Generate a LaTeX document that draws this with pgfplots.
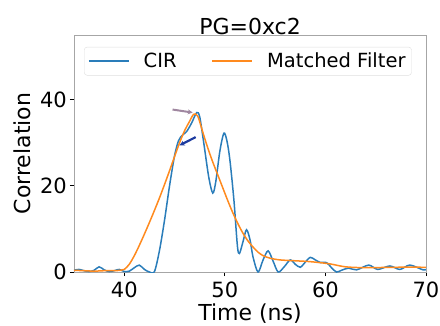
\documentclass[border=0pt]{standalone}
\usepackage{pgfplots}
\pgfplotsset{compat=1.18}
\usepackage{fontspec}
\setmainfont{DejaVu Sans}
\usetikzlibrary{arrows.meta}
\definecolor{mplblue}{HTML}{2A7DBA}
\definecolor{mplorange}{HTML}{FF8A1E}
\definecolor{legblue}{HTML}{5A9BCB}
\definecolor{legorange}{HTML}{F7A868}
\begin{document}
\begin{tikzpicture}
\begin{axis}[
  scale only axis,
  width=352pt, height=237pt,
  xmin=35, xmax=70, ymin=0, ymax=55,
  xtick={40,50,60,70}, ytick={0,20,40},
  /pgf/number format/assume math mode=true,
  ticklabel style={font=\fontsize{21}{23}\selectfont, inner sep=1pt},
  xticklabel style={yshift=-5pt},
  yticklabel style={xshift=-2pt},
  tick align=outside, major tick length=4pt,
  xtick pos=bottom, ytick pos=left,
  axis line style={gray!70, line width=0.8pt},
  tick style={black, line width=0.8pt},
  title={PG=0xc2},
  title style={font=\fontsize{22}{24}\selectfont, yshift=-9.5pt},
  xlabel={Time (ns)},
  ylabel={Correlation},
  label style={font=\fontsize{22}{24}\selectfont, inner sep=1pt},
  xlabel style={yshift=-3.5pt},
  ylabel style={yshift=7pt},
  legend columns=2,
  legend style={at={(0.494,0.95)}, anchor=north, font=\fontsize{19.5}{21}\selectfont,
    draw=gray!25, rounded corners=3pt, fill=white, inner xsep=4pt, inner ysep=4pt,
    /tikz/column 1/.style={column sep=12pt},
    /tikz/column 2/.style={column sep=33pt},
    /tikz/column 3/.style={column sep=12pt},
    /tikz/column 4/.style={column sep=0pt}},
  legend image code/.code={\draw[#1, line width=1.5pt] (0pt,0pt) -- (40pt,0pt);},
  clip=true,
]
\addplot[draw=mplblue, line width=1.5pt, smooth, tension=0.5] coordinates {
(35,0.4) (35.5,0.6) (36,0.3) (36.5,0.1) (37,0.4) (37.5,1.2) (38,0.5) (38.5,0.1)
(39,0.3) (39.5,0.6) (40,0.1) (40.5,0.2) (41,1.0) (41.5,1.6) (42,0.6) (42.5,0)
(43,0.1) (43.5,5) (44,12) (44.5,20) (45,27) (45.4,30.5) (45.8,31.8) (46.2,32.6)
(46.7,34.6) (47.2,37) (47.5,36) (47.9,30) (48.4,22) (48.8,18.3) (49.1,21)
(49.5,28) (49.9,32.2) (50.2,30.5) (50.5,26) (50.9,16.7) (51.25,6) (51.45,4.3)
(51.8,7) (52.15,9.8) (52.5,7.5) (52.8,3.5) (53.3,0) (53.8,2.8) (54.3,4.9)
(54.8,2.5) (55.3,0) (55.9,1.2) (56.5,2.8) (57,1.8) (57.5,1.1) (58,2.3)
(58.5,3.4) (59,2.8) (59.5,2.2) (60.1,2.2) (60.6,1.0) (61.1,0) (61.6,0.4)
(62.3,0.9) (63.1,0.5) (64.3,1.6) (65.2,0.6) (66.4,1.4) (67.4,0.6) (68.4,1.6)
(69.7,0.5) (70,0.6)
};
\addlegendentry{CIR}
\addplot[draw=mplorange, line width=1.5pt, smooth, tension=0.5] coordinates {
(35,0.4) (36,0.3) (37,0.2) (38,0.3) (39,0.3) (39.6,0.4) (40,0.6) (40.5,1.8)
(41,3.8) (41.5,6.2) (42,8.8) (42.5,11.5) (43,14.3) (43.5,17.2) (44,20.3)
(44.5,23.5) (45,26.8) (45.5,30) (46,32.8) (46.5,35) (46.9,36.6) (47.3,36.2)
(47.8,32.5) (48.3,28.8) (48.8,25.5) (49.3,22.5) (49.8,19.5) (50.3,16.5)
(50.8,13.7) (51.3,11.2) (51.8,9) (52.3,7.2) (52.8,5.8) (53.3,4.6) (53.8,3.8)
(54.5,3.2) (55.5,2.8) (57,2.6) (58.5,2.4) (60.4,1.9) (62,1.2) (64,1.0)
(67,1.1) (70,1.1)
};
\addlegendentry{Matched Filter}
\draw[-{Stealth[length=5pt,width=5pt]}, color={rgb,255:red,160;green,135;blue,160}, line width=2pt]
  (axis cs:44.8,37.7) -- (axis cs:46.8,37.0);
\draw[-{Stealth[length=5pt,width=5pt]}, color={rgb,255:red,30;green,60;blue,160}, line width=2.2pt]
  (axis cs:47.1,31.3) -- (axis cs:45.5,29.4);
\end{axis}
\pgfresetboundingbox
\path (-74pt,-53pt) rectangle (366pt,272pt);
\end{tikzpicture}
\end{document}
